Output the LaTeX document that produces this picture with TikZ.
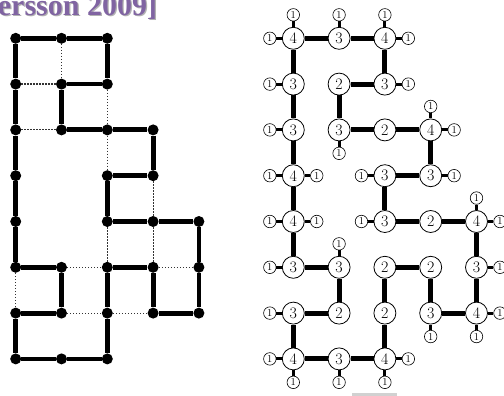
\documentclass[tikz,border=0pt]{standalone}
\usepackage{fontspec}
\newfontfamily\titlefont{Liberation Serif}
\usepackage{xcolor}
\usepackage{tikz}
\usetikzlibrary{positioning}
\definecolor{titlepurple}{HTML}{8064A2}

\begin{document}
\begin{tikzpicture}[
    x=45.8pt, y=-45.8pt,
    dot/.style={circle, fill, inner sep=0pt, minimum size=11pt},
    cell/.style={circle, draw, fill=white, line width=0.8pt, inner sep=0pt, minimum size=22pt, font=\fontsize{16}{16}\selectfont},
    pend/.style={circle, draw, fill=white, line width=0.6pt, inner sep=0pt, minimum size=12.5pt, font=\fontsize{10.5}{10.5}\selectfont},
    tour/.style={line width=4.8pt},
    chord/.style={dash pattern=on 1.3pt off 1.7pt, line width=1.2pt, black!80},
    link/.style={line width=5pt},
    stub/.style={line width=3pt},
    title/.style={font=\titlefont\bfseries\fontsize{30}{30}\selectfont, inner sep=0pt, anchor=base west}
]

\clip (-15.7pt,38.3pt) rectangle (488.3pt,-357.7pt);

% Title (cut by the frame)
\node[title, text=black!30] (shadow) at (-16.8pt,21.3pt) {ersson 2009]};
\node[title, text=titlepurple] (title) at (-18pt,22.6pt) {ersson 2009]};

% Grid points, left
\foreach \c/\r in {0/0,1/0,2/0, 0/1,1/1,2/1, 0/2,1/2,2/2,3/2, 0/3,2/3,3/3,
                   0/4,2/4,3/4,4/4, 0/5,1/5,2/5,3/5,4/5, 0/6,1/6,2/6,3/6,4/6, 0/7,1/7,2/7}
    \node[dot] (l-\c-\r) at (\c,\r) {};

% Cells, right
\begin{scope}[xshift=277.6pt]
\foreach \c/\r/\v in {0/0/4,1/0/3,2/0/4, 0/1/3,1/1/2,2/1/3, 0/2/3,1/2/3,2/2/2,3/2/4,
                      0/3/4,2/3/3,3/3/3, 0/4/4,2/4/3,3/4/2,4/4/4,
                      0/5/3,1/5/3,2/5/2,3/5/2,4/5/3, 0/6/3,1/6/2,2/6/2,3/6/3,4/6/4,
                      0/7/4,1/7/3,2/7/4}
    \node[cell] (r-\c-\r) at (\c,\r) {\v};
\end{scope}

% Unused grid edges
\foreach \a/\b in {1-0/1-1, 0-1/1-1, 2-1/2-2, 0-2/1-2, 2-2/2-3, 3-3/3-4, 2-4/2-5,
                   3-4/3-5, 1-5/2-5, 3-5/4-5, 0-5/0-6, 1-6/2-6, 2-6/3-6}
    \draw[chord] (l-\a) -- (l-\b);

% Tour edges
\foreach \a/\b in {0-0/1-0, 1-0/2-0, 1-1/2-1, 1-2/2-2, 2-2/3-2, 2-3/3-3, 2-4/3-4,
                   3-4/4-4, 0-5/1-5, 2-5/3-5, 0-6/1-6, 3-6/4-6, 0-7/1-7, 1-7/2-7,
                   0-0/0-1, 2-0/2-1, 0-1/0-2, 1-1/1-2, 0-2/0-3, 3-2/3-3, 0-3/0-4,
                   2-3/2-4, 0-4/0-5, 4-4/4-5, 1-5/1-6, 2-5/2-6, 3-5/3-6, 4-5/4-6,
                   0-6/0-7, 2-6/2-7} {
    \draw[tour] (l-\a) -- (l-\b);
    \draw[link] (r-\a) -- (r-\b);
}

% Pendant cells
\foreach \c/\r/\d in {0/0/above, 0/0/left, 1/0/above, 2/0/above, 2/0/right,
                      0/1/left, 2/1/right, 0/2/left, 1/2/below, 3/2/above, 3/2/right,
                      0/3/left, 0/3/right, 2/3/left, 3/3/right,
                      0/4/left, 0/4/right, 2/4/left, 4/4/above, 4/4/right,
                      0/5/left, 1/5/above, 4/5/right, 0/6/left, 3/6/below, 4/6/right, 4/6/below,
                      0/7/left, 0/7/below, 1/7/below, 2/7/right, 2/7/below} {
    \node[pend, \d=5.5pt of r-\c-\r] (p-\c-\r-\d) {1};
    \draw[stub] (p-\c-\r-\d) -- (r-\c-\r);
}

% Bar at the bottom edge
\fill[black!18] (336.3pt,-354.7pt) rectangle (381.3pt,-358pt);

\end{tikzpicture}
\end{document}
